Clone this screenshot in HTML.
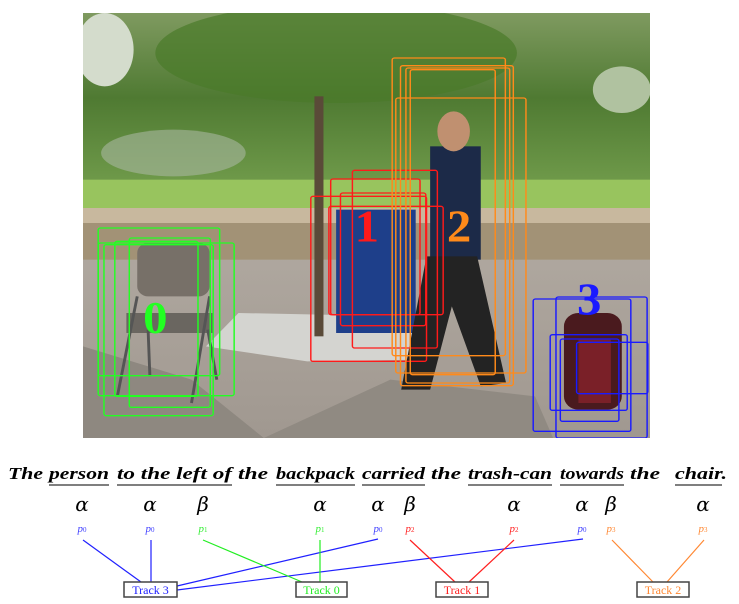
<!DOCTYPE html>
<html><head><meta charset="utf-8"><style>
html,body{margin:0;padding:0;background:#fff;width:739px;height:604px;overflow:hidden}
svg{display:block}
</style></head><body>
<svg width="739" height="604" xmlns="http://www.w3.org/2000/svg">
<svg x="83" y="13" width="567" height="425" viewBox="0 0 1568 1275" preserveAspectRatio="none">
 <defs>
  <linearGradient id="sky" x1="0" y1="0" x2="0" y2="1">
   <stop offset="0" stop-color="#7f9a60"/><stop offset="0.5" stop-color="#4f7a32"/><stop offset="1" stop-color="#6f9a4a"/>
  </linearGradient>
  <linearGradient id="pave" x1="0" y1="0" x2="0" y2="1">
   <stop offset="0" stop-color="#c2bbb2"/><stop offset="1" stop-color="#a09890"/>
  </linearGradient>
 </defs>
 <rect width="1568" height="1275" fill="url(#pave)"/>
 <rect width="1568" height="510" fill="url(#sky)"/>
 <ellipse cx="60" cy="110" rx="80" ry="110" fill="#d4dccc"/>
 <ellipse cx="1490" cy="230" rx="80" ry="70" fill="#b0c2a0"/>
 <ellipse cx="700" cy="120" rx="500" ry="150" fill="#4a7a2a" opacity="0.7"/>
 <ellipse cx="250" cy="420" rx="200" ry="70" fill="#a8b8a0" opacity="0.6"/>
 <rect y="500" width="1568" height="85" fill="#98c45e"/>
 <rect y="585" width="1568" height="45" fill="#c8b89e"/>
 <rect y="630" width="1568" height="110" fill="#a29276"/>
 <polygon points="0,1275 0,1000 300,1100 500,1275" fill="#8e8880"/>
 <polygon points="500,1275 850,1100 1250,1150 1300,1275" fill="#908a82"/>
 <polygon points="340,1000 430,900 900,910 940,1040 620,1045" fill="#d4d4d0"/>
 <rect x="640" y="250" width="25" height="720" fill="#5a4a38"/>
 <rect x="700" y="590" width="220" height="370" fill="#1e3f8a"/>
 <rect x="960" y="400" width="140" height="340" fill="#1c2a48"/>
 <ellipse cx="1025" cy="355" rx="45" ry="60" fill="#c09070"/>
 <polygon points="950,730 1090,730 1170,1110 1100,1120 1020,880 960,1130 880,1130" fill="#232323"/>
 <rect x="150" y="690" width="200" height="160" rx="30" fill="#777068"/>
 <rect x="120" y="900" width="240" height="60" fill="#6a6660"/>
 <line x1="150" y1="850" x2="95" y2="1150" stroke="#555" stroke-width="8"/>
 <line x1="350" y1="850" x2="300" y2="1170" stroke="#555" stroke-width="8"/>
 <line x1="180" y1="950" x2="185" y2="1090" stroke="#555" stroke-width="8"/>
 <line x1="345" y1="950" x2="370" y2="1100" stroke="#555" stroke-width="8"/>
 <rect x="1330" y="900" width="160" height="290" rx="40" fill="#4a1a1e"/>
 <rect x="1370" y="980" width="90" height="190" fill="#7a2028"/>
 <g fill="none" stroke-width="4">
  <g stroke="#22ff22">
   <rect x="42" y="645" width="336" height="443" rx="6"/>
   <rect x="42" y="690" width="376" height="458" rx="6"/>
   <rect x="88" y="685" width="230" height="465" rx="6"/>
   <rect x="128" y="675" width="224" height="508" rx="6"/>
   <rect x="58" y="695" width="302" height="513" rx="6"/>
  </g>
  <g stroke="#ff1a1a">
   <rect x="630" y="550" width="320" height="495" rx="6"/>
   <rect x="685" y="498" width="247" height="407" rx="6"/>
   <rect x="745" y="472" width="235" height="533" rx="6"/>
   <rect x="712" y="540" width="236" height="398" rx="6"/>
   <rect x="680" y="580" width="316" height="325" rx="6"/>
  </g>
  <g stroke="#ff8a1a">
   <rect x="855" y="135" width="313" height="893" rx="6"/>
   <rect x="878" y="158" width="312" height="960" rx="6"/>
   <rect x="893" y="165" width="287" height="945" rx="6"/>
   <rect x="865" y="255" width="360" height="825" rx="6"/>
   <rect x="905" y="170" width="235" height="915" rx="6"/>
  </g>
  <g stroke="#1a1aff">
   <rect x="1245" y="858" width="270" height="397" rx="6"/>
   <rect x="1308" y="852" width="252" height="423" rx="6"/>
   <rect x="1292" y="965" width="213" height="227" rx="6"/>
   <rect x="1320" y="978" width="162" height="247" rx="6"/>
   <rect x="1365" y="988" width="197" height="154" rx="6"/>
  </g>
 </g>
 <g font-family="Liberation Serif, serif" font-weight="bold" font-size="135" text-anchor="middle">
  <text x="200" y="960" fill="#22ff22">0</text>
  <text x="785" y="685" fill="#ff1a1a">1</text>
  <text x="1040" y="685" fill="#ff8a1a">2</text>
  <text x="1400" y="905" fill="#1a1aff">3</text>
 </g>
</svg>
<g font-family="Liberation Serif, serif" font-weight="bold" font-style="italic" font-size="17" fill="#000">
 <text x="8" y="479" textLength="35" lengthAdjust="spacingAndGlyphs">The</text>
 <text x="49" y="479" textLength="60" lengthAdjust="spacingAndGlyphs">person</text>
 <text x="117" y="479" textLength="115" lengthAdjust="spacingAndGlyphs">to the left of</text>
 <text x="238" y="479" textLength="30" lengthAdjust="spacingAndGlyphs">the</text>
 <text x="276" y="479" textLength="79" lengthAdjust="spacingAndGlyphs">backpack</text>
 <text x="362" y="479" textLength="63" lengthAdjust="spacingAndGlyphs">carried</text>
 <text x="431" y="479" textLength="30" lengthAdjust="spacingAndGlyphs">the</text>
 <text x="468" y="479" textLength="84" lengthAdjust="spacingAndGlyphs">trash-can</text>
 <text x="560" y="479" textLength="64" lengthAdjust="spacingAndGlyphs">towards</text>
 <text x="630" y="479" textLength="30" lengthAdjust="spacingAndGlyphs">the</text>
 <text x="675" y="479" textLength="52" lengthAdjust="spacingAndGlyphs">chair.</text>
</g>
<g stroke="#333" stroke-width="1.3">
 <line x1="49" y1="485" x2="109" y2="485"/><line x1="117" y1="485" x2="232" y2="485"/>
 <line x1="276" y1="485" x2="355" y2="485"/><line x1="362" y1="485" x2="425" y2="485"/>
 <line x1="468" y1="485" x2="552" y2="485"/><line x1="560" y1="485" x2="624" y2="485"/>
 <line x1="675" y1="485" x2="722" y2="485"/>
</g>
<g font-family="DejaVu Serif, serif" font-style="italic" font-size="20" text-anchor="middle" fill="#000">
 <text x="82" y="511">α</text><text x="150" y="511">α</text><text x="203" y="511">β</text>
 <text x="320" y="511">α</text><text x="378" y="511">α</text><text x="410" y="511">β</text>
 <text x="514" y="511">α</text><text x="582" y="511">α</text><text x="611" y="511">β</text>
 <text x="703" y="511">α</text>
</g>
<g font-family="Liberation Serif, serif" font-style="italic" font-size="11" text-anchor="middle">
 <text x="82" y="532" fill="#4040ff">p<tspan font-size="7" font-style="normal">0</tspan></text>
 <text x="150" y="532" fill="#4040ff">p<tspan font-size="7" font-style="normal">0</tspan></text>
 <text x="203" y="532" fill="#33ee33">p<tspan font-size="7" font-style="normal">1</tspan></text>
 <text x="320" y="532" fill="#33ee33">p<tspan font-size="7" font-style="normal">1</tspan></text>
 <text x="378" y="532" fill="#4040ff">p<tspan font-size="7" font-style="normal">0</tspan></text>
 <text x="410" y="532" fill="#ff2020">p<tspan font-size="7" font-style="normal">2</tspan></text>
 <text x="514" y="532" fill="#ff2020">p<tspan font-size="7" font-style="normal">2</tspan></text>
 <text x="582" y="532" fill="#4040ff">p<tspan font-size="7" font-style="normal">0</tspan></text>
 <text x="611" y="532" fill="#ff8833">p<tspan font-size="7" font-style="normal">3</tspan></text>
 <text x="703" y="532" fill="#ff8833">p<tspan font-size="7" font-style="normal">3</tspan></text>
</g>
<g stroke-width="1.2">
 <line x1="83" y1="540" x2="141" y2="582" stroke="#2020ff"/>
 <line x1="151" y1="540" x2="151" y2="582" stroke="#2020ff"/>
 <line x1="378" y1="539" x2="177" y2="586" stroke="#2020ff"/>
 <line x1="583" y1="539" x2="177" y2="590" stroke="#2020ff"/>
 <line x1="203" y1="540" x2="302" y2="582" stroke="#22ee22"/>
 <line x1="320" y1="540" x2="320" y2="582" stroke="#22ee22"/>
 <line x1="410" y1="540" x2="455" y2="582" stroke="#ff2020"/>
 <line x1="514" y1="540" x2="469" y2="582" stroke="#ff2020"/>
 <line x1="612" y1="540" x2="653" y2="582" stroke="#ff8833"/>
 <line x1="704" y1="540" x2="667" y2="582" stroke="#ff8833"/>
</g>
<g fill="#fff" stroke="#444" stroke-width="1.5">
 <rect x="124" y="582" width="53" height="15"/>
 <rect x="296" y="582" width="51" height="15"/>
 <rect x="436" y="582" width="52" height="15"/>
 <rect x="637" y="582" width="52" height="15"/>
</g>
<g font-family="Liberation Serif, serif" font-size="12" text-anchor="middle">
 <text x="150.5" y="594" fill="#2020ff">Track 3</text>
 <text x="321.5" y="594" fill="#22ee22">Track 0</text>
 <text x="462" y="594" fill="#ff2020">Track 1</text>
 <text x="663" y="594" fill="#ff8833">Track 2</text>
</g>
</svg>
</body></html>
